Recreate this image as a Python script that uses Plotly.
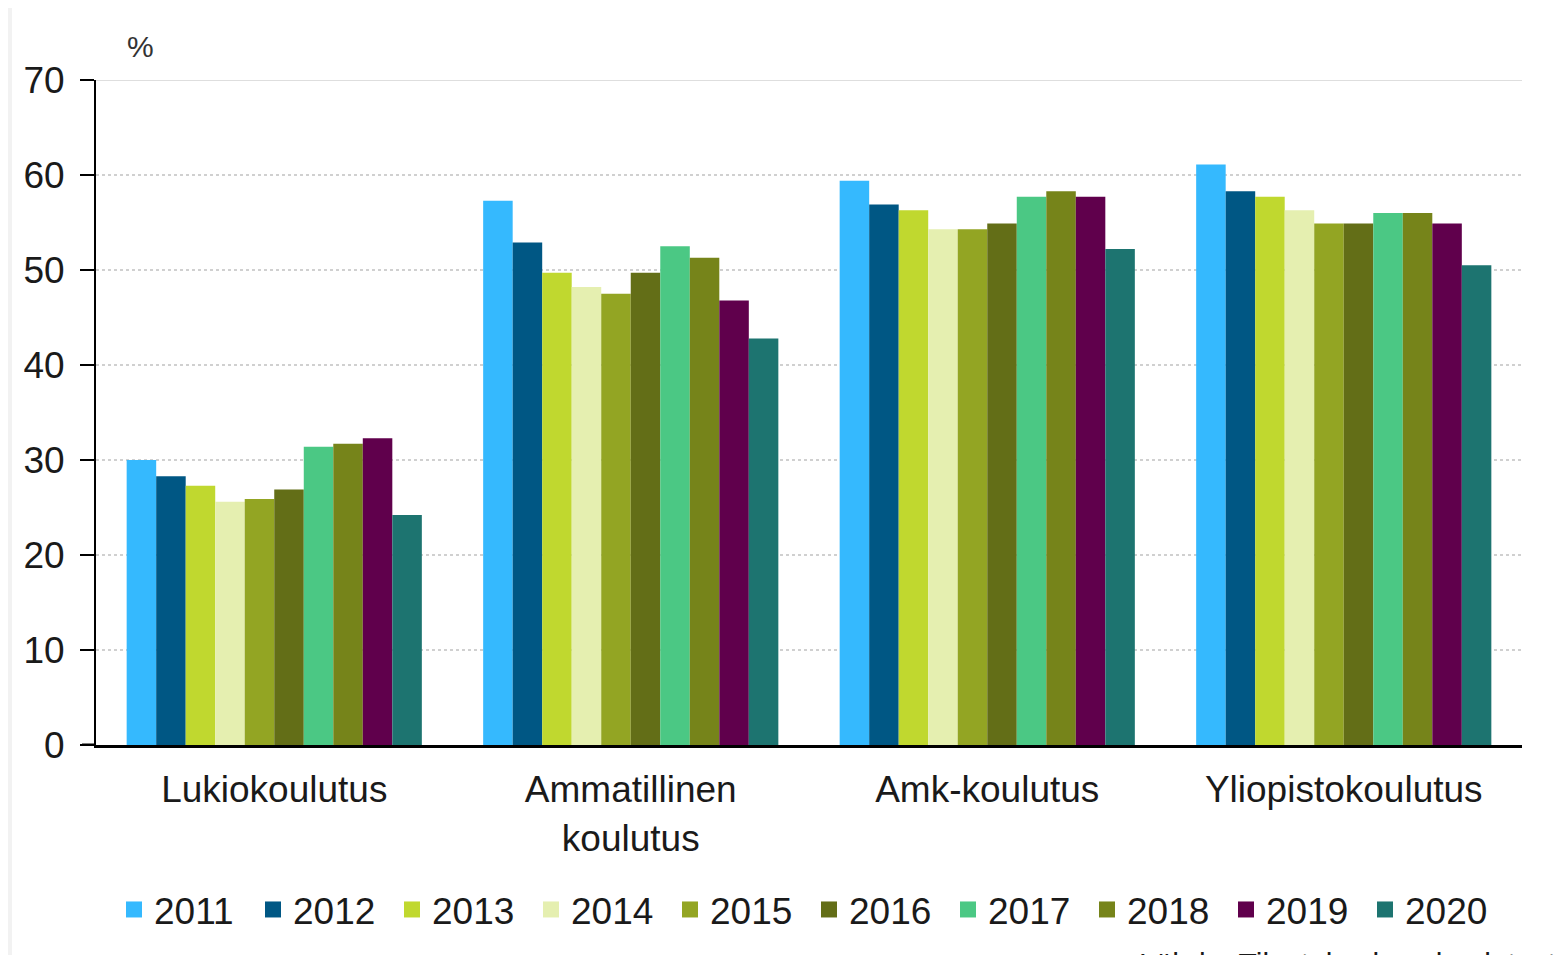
import plotly.graph_objects as go

categories = ["Lukiokoulutus", "Ammatillinen<br>koulutus", "Amk-koulutus", "Yliopistokoulutus"]
years = ["2011", "2012", "2013", "2014", "2015", "2016", "2017", "2018", "2019", "2020"]
colors = ["#35b9fe", "#005784", "#c0d82f", "#e5efb0", "#93a523",
          "#636e17", "#4bc884", "#76841a", "#60004c", "#1d7470"]

# share (%) per year, in category order
values = {
    "2011": [30.0, 57.3, 59.4, 61.1],
    "2012": [28.3, 52.9, 56.9, 58.3],
    "2013": [27.3, 49.7, 56.3, 57.7],
    "2014": [25.6, 48.2, 54.3, 56.3],
    "2015": [25.9, 47.5, 54.3, 54.9],
    "2016": [26.9, 49.7, 54.9, 54.9],
    "2017": [31.4, 52.5, 57.7, 56.0],
    "2018": [31.7, 51.3, 58.3, 56.0],
    "2019": [32.3, 46.8, 57.7, 54.9],
    "2020": [24.2, 42.8, 52.2, 50.5],
}
y_ticks = [0, 10, 20, 30, 40, 50, 60, 70]

FONT = "Arial, Liberation Sans, sans-serif"

fig = go.Figure()
for year, color in zip(years, colors):
    fig.add_trace(go.Bar(
        x=categories, y=values[year], name=year,
        marker=dict(color=color, line=dict(width=0)),
        showlegend=False,
    ))
    # legend entry with a bigger square than the bar default
    fig.add_trace(go.Scatter(
        x=[None], y=[None], name=year, mode="markers",
        marker=dict(symbol="square", size=19, color=color),
    ))

# the page body adds 8px around the figure, margins allow for it
fig.update_layout(
    width=1565, height=955,
    margin=dict(l=88, r=51, t=72, b=218),
    paper_bgcolor="white", plot_bgcolor="white",
    barmode="group", bargap=0.172, bargroupgap=0,
    font=dict(family=FONT, size=37, color="#1a1a1a"),
    legend=dict(
        orientation="h", x=0.5, xanchor="center", y=-0.248, yanchor="middle",
        font=dict(size=37), itemwidth=30, entrywidth=94, traceorder="normal",
        bgcolor="rgba(0,0,0,0)",
    ),
    showlegend=True,
)

fig.update_yaxes(
    range=[0, 70], tickvals=y_ticks, ticks="outside", ticklen=14, tickwidth=2,
    tickcolor="black", showline=True, linecolor="black", linewidth=2,
    showgrid=True, gridcolor="#d0d0d0", gridwidth=2, griddash="3px,3px",
    zeroline=False, tickfont=dict(size=37, color="#1a1a1a"), ticklabelstandoff=8,
)
fig.update_xaxes(
    showline=True, linecolor="black", linewidth=3, ticks="",
    tickfont=dict(size=37, color="#1a1a1a"), ticklabelstandoff=10,
)

# solid top grid line, zero line extension and page frame
fig.add_shape(type="line", xref="paper", yref="y", x0=0, x1=1, y0=70, y1=70,
              line=dict(color="#dedede", width=2), layer="below")
fig.add_shape(type="line", xref="paper", yref="y", x0=-0.0098, x1=0, y0=0, y1=0,
              line=dict(color="black", width=3))
fig.add_shape(type="rect", xref="paper", yref="paper", x0=-0.07, x1=-0.0589,
              y0=-0.34, y1=1.13, fillcolor="#f2f2f2", line=dict(width=0))

fig.add_annotation(text="%", xref="paper", yref="paper", x=0.031, y=1.05,
                   xanchor="center", yanchor="middle", showarrow=False,
                   font=dict(size=30, color="#333333"))
fig.add_annotation(text="Lähde: Tilastokeskus, koulutustilastot", xref="paper",
                   yref="paper", x=0.73, y=-0.3, xanchor="left", yanchor="top",
                   showarrow=False, font=dict(size=30, color="#1a1a1a"))

fig.write_html("out.html")
